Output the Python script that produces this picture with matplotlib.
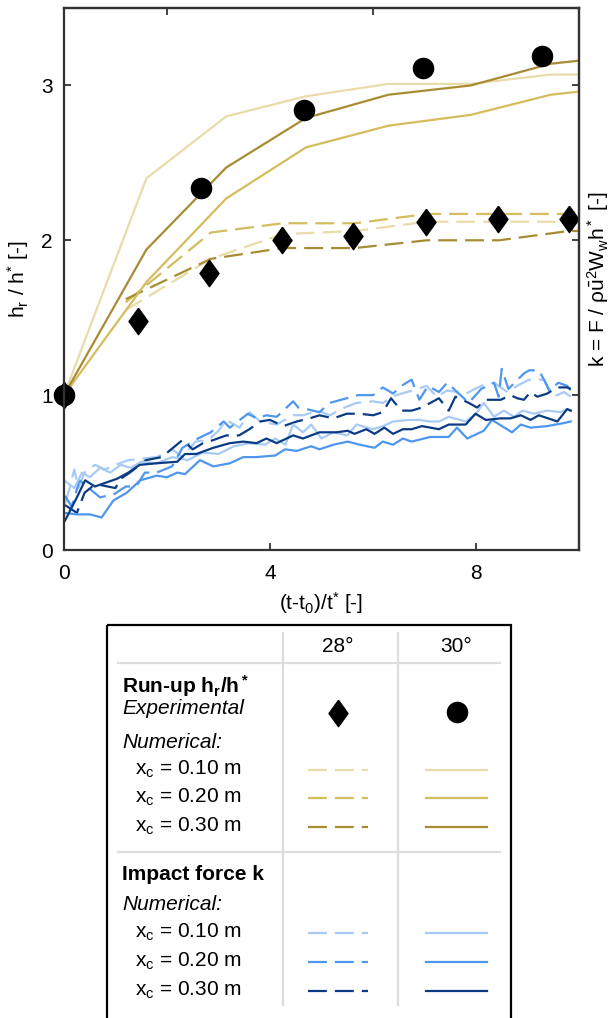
import matplotlib
matplotlib.use("Agg")
import matplotlib.pyplot as plt
from matplotlib.patches import Rectangle
from matplotlib.lines import Line2D

plt.rcParams['font.family'] = ['Liberation Sans', 'DejaVu Sans']
plt.rcParams['mathtext.fontset'] = 'custom'
plt.rcParams['mathtext.rm'] = 'Liberation Sans'
plt.rcParams['mathtext.it'] = 'Liberation Sans:italic'
plt.rcParams['mathtext.bf'] = 'Liberation Sans:bold'

# colours
gold = ["#e9dcab", "#d5bc5f", "#a88c34"]
blue = ["#a8cbf6", "#4e96ee", "#0b3b84"]
dash = (0, (8.5, 3.6))
diamond = [(0, 1), (0.72, 0), (0, -1), (-0.72, 0), (0, 1)]

# run-up, experimental
t_exp28 = [0, 1.44, 2.82, 4.23, 5.61, 7.03, 8.43, 9.8]
h_exp28 = [1.0, 1.48, 1.79, 2.0, 2.03, 2.12, 2.14, 2.14]
t_exp30 = [0, 2.66, 4.66, 6.97, 9.28]
h_exp30 = [1.0, 2.34, 2.84, 3.11, 3.19]

# run-up, numerical 30 deg (solid)
t_num30 = [0, 1.6, 3.15, 4.7, 6.3, 7.9, 9.45, 10]
h30_010 = [1.0, 2.40, 2.80, 2.93, 3.01, 3.01, 3.07, 3.07]
h30_020 = [1.0, 1.73, 2.27, 2.60, 2.74, 2.81, 2.94, 2.96]
h30_030 = [1.0, 1.94, 2.47, 2.79, 2.94, 3.0, 3.14, 3.16]

# run-up, numerical 28 deg (dashed)
t_num28 = [1.2, 2.85, 4.25, 5.65, 7.05, 8.45, 9.8, 10]
h28_010 = [1.55, 1.88, 2.04, 2.06, 2.12, 2.12, 2.12, 2.12]
h28_020 = [1.60, 2.05, 2.11, 2.11, 2.17, 2.17, 2.17, 2.19]
h28_030 = [1.62, 1.88, 1.95, 1.95, 2.0, 2.0, 2.06, 2.06]

# impact force, 30 deg (solid)
tk30_010 = [0, 0.2, 0.35, 0.5, 0.7, 0.9, 1.1, 1.3, 1.5, 1.8, 2.1, 2.4, 2.7, 3.0, 3.3, 3.6, 3.9,
            4.1, 4.3, 4.45, 4.64, 4.8, 5.0, 5.23, 5.5, 5.68, 6.0, 6.2, 6.39, 6.7, 6.9, 7.1, 7.28,
            7.47, 7.8, 8.0, 8.15, 8.35, 8.54, 8.74, 8.9, 9.13, 9.38, 9.64, 9.77, 9.84]
k30_010 = [0.45, 0.40, 0.50, 0.47, 0.53, 0.50, 0.55, 0.53, 0.57, 0.56, 0.60, 0.58, 0.63, 0.62, 0.67,
           0.69, 0.68, 0.72, 0.68, 0.81, 0.76, 0.81, 0.72, 0.76, 0.74, 0.81, 0.78, 0.80, 0.83, 0.84,
           0.84, 0.83, 0.83, 0.86, 0.83, 0.88, 0.95, 0.86, 0.90, 0.86, 0.90, 0.88, 0.90, 0.89, 0.91, 0.90]
tk30_020 = [0, 0.25, 0.5, 0.73, 0.96, 1.22, 1.48, 1.8, 2.0, 2.2, 2.35, 2.64, 2.9, 3.22, 3.48, 3.74,
            4.1, 4.29, 4.52, 4.8, 4.96, 5.23, 5.51, 5.74, 6.03, 6.19, 6.39, 6.58, 6.75, 7.11, 7.47,
            7.63, 7.83, 8.15, 8.31, 8.7, 8.87, 9.06, 9.38, 9.71, 9.84]
k30_020 = [0.24, 0.23, 0.23, 0.21, 0.32, 0.37, 0.45, 0.48, 0.47, 0.50, 0.49, 0.58, 0.54, 0.56, 0.60,
           0.60, 0.61, 0.65, 0.64, 0.67, 0.65, 0.68, 0.70, 0.68, 0.66, 0.70, 0.68, 0.72, 0.70, 0.73,
           0.73, 0.79, 0.72, 0.77, 0.84, 0.76, 0.81, 0.79, 0.80, 0.82, 0.83]
tk30_030 = [0.02, 0.25, 0.41, 0.6, 0.77, 1.03, 1.25, 1.47, 1.8, 2.2, 2.35, 2.57, 2.9, 3.22, 3.48,
            3.74, 3.93, 4.13, 4.45, 4.64, 4.96, 5.29, 5.51, 5.64, 5.87, 6.03, 6.22, 6.39, 6.58, 6.75,
            6.95, 7.28, 7.47, 7.8, 7.99, 8.19, 8.48, 8.67, 8.87, 9.06, 9.22, 9.58, 9.77, 9.84]
k30_030 = [0.19, 0.34, 0.45, 0.41, 0.43, 0.46, 0.50, 0.55, 0.56, 0.57, 0.62, 0.62, 0.66, 0.69, 0.70,
           0.69, 0.72, 0.69, 0.74, 0.72, 0.76, 0.76, 0.77, 0.75, 0.78, 0.75, 0.79, 0.75, 0.78, 0.78,
           0.80, 0.78, 0.81, 0.81, 0.88, 0.84, 0.85, 0.85, 0.87, 0.84, 0.87, 0.83, 0.91, 0.90]

# impact force, 28 deg (dashed)
tk28_010 = [0.02, 0.1, 0.2, 0.28, 0.4, 0.6, 0.8, 1.0, 1.25, 1.5, 1.8, 2.1, 2.3, 2.55, 2.8, 3.0, 3.15,
            3.41, 3.6, 3.81, 4.13, 4.45, 4.64, 4.93, 5.16, 5.45, 5.68, 6.0, 6.19, 6.45, 6.77, 7.04,
            7.24, 7.44, 7.8, 8.1, 8.35, 8.61, 8.8, 9.03, 9.32, 9.51, 9.71, 9.84]
k28_010 = [0.30, 0.39, 0.52, 0.40, 0.50, 0.55, 0.52, 0.55, 0.58, 0.59, 0.60, 0.65, 0.60, 0.70, 0.71,
           0.77, 0.84, 0.79, 0.89, 0.83, 0.81, 0.87, 0.87, 0.90, 0.87, 0.92, 0.95, 0.96, 0.95, 1.0,
           1.03, 1.06, 0.99, 1.03, 1.01, 1.06, 1.08, 1.02, 1.06, 1.10, 1.10, 0.99, 1.02, 0.99]
tk28_020 = [0.02, 0.15, 0.3, 0.48, 0.7, 0.97, 1.2, 1.4, 1.57, 1.8, 2.1, 2.3, 2.6, 2.85, 3.1, 3.22,
            3.57, 3.74, 3.93, 4.13, 4.45, 4.55, 4.71, 4.96, 5.16, 5.49, 5.71, 6.0, 6.19, 6.39, 6.55,
            6.75, 6.9, 7.07, 7.28, 7.44, 7.86, 8.1, 8.35, 8.44, 8.5, 8.63, 8.93, 9.03, 9.22, 9.32,
            9.42, 9.6, 9.77, 9.84]
k28_020 = [0.35, 0.28, 0.45, 0.40, 0.34, 0.36, 0.41, 0.41, 0.50, 0.50, 0.54, 0.66, 0.72, 0.76, 0.83,
           0.79, 0.88, 0.85, 0.87, 0.86, 0.96, 0.92, 0.91, 0.89, 0.95, 0.98, 1.0, 1.0, 1.05, 1.01,
           1.06, 1.10, 0.97, 1.06, 1.02, 1.08, 0.95, 1.04, 1.08, 0.99, 1.17, 1.04, 1.14, 1.16, 1.16,
           1.10, 1.03, 1.08, 1.06, 1.03]
tk28_030 = [0.02, 0.25, 0.4, 0.55, 0.7, 1.0, 1.1, 1.28, 1.59, 1.9, 2.3, 2.5, 2.7, 2.9, 3.15, 3.4,
            3.6, 3.81, 4.0, 4.26, 4.52, 4.77, 4.96, 5.23, 5.49, 5.74, 6.0, 6.19, 6.35, 6.55, 6.75,
            6.95, 7.28, 7.47, 7.6, 7.86, 8.02, 8.2, 8.48, 8.67, 8.8, 8.93, 9.06, 9.19, 9.38, 9.58,
            9.77, 9.84]
k28_030 = [0.29, 0.24, 0.37, 0.41, 0.42, 0.40, 0.46, 0.50, 0.58, 0.60, 0.71, 0.65, 0.69, 0.71, 0.74,
           0.74, 0.78, 0.83, 0.84, 0.80, 0.83, 0.85, 0.87, 0.85, 0.88, 0.88, 0.87, 0.89, 0.98, 0.90,
           0.90, 0.92, 0.98, 0.90, 0.99, 0.95, 0.92, 0.97, 0.97, 1.0, 0.98, 0.97, 1.02, 0.99, 1.01,
           1.05, 1.05, 1.04]

xc_labels = ["0.10", "0.20", "0.30"]

fig = plt.figure(figsize=(6.13, 10.18), dpi=100)

# ---- main plot ----
ax = fig.add_axes([64/613, 1-550/1018, 515/613, 542/1018])
lw = 1.6
for tt, kk, c in zip([tk28_010, tk28_020, tk28_030], [k28_010, k28_020, k28_030], blue):
    ax.plot(tt, kk, color=c, lw=lw, linestyle=dash)
for tt, kk, c in zip([tk30_010, tk30_020, tk30_030], [k30_010, k30_020, k30_030], blue):
    ax.plot(tt, kk, color=c, lw=lw)
for hh, c in zip([h28_010, h28_020, h28_030], gold):
    ax.plot(t_num28, hh, color=c, lw=lw, linestyle=dash)
for hh, c in zip([h30_010, h30_020, h30_030], gold):
    ax.plot(t_num30, hh, color=c, lw=lw)
ax.plot(t_exp28, h_exp28, linestyle='none', marker=diamond, color='black', ms=19, clip_on=False)
ax.plot(t_exp30, h_exp30, 'o', color='black', ms=14.5, clip_on=False)

ax.set_xlim(0, 10)
ax.set_ylim(0, 3.5)
ax.set_xticks([0, 4, 8])
ax.set_yticks([0, 1, 2, 3])
ax.tick_params(direction='in', length=5, width=1.3, labelsize=15, color='#333333')
ax.tick_params(axis='x', pad=10)
ax.tick_params(axis='y', pad=8)
for s in ax.spines.values():
    s.set_linewidth(1.6)
    s.set_color('#333333')
ax.set_xlabel(r'(t-t$_\mathregular{0}$)/t$^\mathregular{*}$ [-]', fontsize=15, labelpad=5)
ax.set_ylabel(r'h$_\mathregular{r}$ / h$^\mathregular{*}$ [-]', fontsize=15, labelpad=7)

top = ax.secondary_xaxis('top')
top.set_xticks([2, 6, 10])
top.set_xticklabels([])
top.tick_params(direction='in', length=5, width=1.3, color='#333333')
top.spines['top'].set_linewidth(1.6)
top.spines['top'].set_color('#333333')

right = ax.secondary_yaxis('right')
right.set_yticks([1, 2, 3])
right.set_yticklabels([])
right.tick_params(direction='in', length=5, width=1.3, color='#333333')
right.spines['right'].set_linewidth(1.6)
right.spines['right'].set_color('#333333')
fig.text(598/613, 1 - 279/1018, r'k = F / $\mathregular{\rho\bar{u}^2W_wh^*}$ [-]',
         fontsize=15, rotation=90, ha='center', va='center')

# ---- legend table (pixel coordinates) ----
lg = fig.add_axes([0, 0, 1, 1], zorder=-1)
lg.set_xlim(0, 613)
lg.set_ylim(1018, 0)
lg.axis('off')
lg.add_patch(Rectangle((107, 625), 404, 420, fill=False, ec='black', lw=1.6))
grey = '#dddddd'
lg.plot([118, 500], [663, 663], color=grey, lw=1.6)
lg.plot([118, 500], [852, 852], color=grey, lw=1.6)
lg.plot([283, 283], [633, 1005], color=grey, lw=1.6)
lg.plot([398, 398], [633, 1005], color=grey, lw=1.6)

fs = 15
lg.text(338, 646, '28°', fontsize=fs, ha='center', va='center')
lg.text(456, 646, '30°', fontsize=fs, ha='center', va='center')
lg.text(122, 686, r'Run-up $\mathbf{h_r/h^*}$', fontsize=fs, fontweight='bold', va='center')
lg.text(122, 709, 'Experimental', fontsize=fs, style='italic', va='center')
lg.text(122, 742, 'Numerical:', fontsize=fs, style='italic', va='center')
lg.text(122, 875, 'Impact force k', fontsize=fs, fontweight='bold', va='center')
lg.text(122, 905, 'Numerical:', fontsize=fs, style='italic', va='center')
lg.plot([338], [713], linestyle='none', marker=diamond, color='black', ms=19)
lg.plot([457], [712], 'o', color='black', ms=14.5)

for rows, cols in [([770, 798, 827], gold), ([933, 962, 991], blue)]:
    for y, c, lab in zip(rows, cols, xc_labels):
        lg.text(135, y - 1, r'x$_\mathregular{c}$ = ' + lab + ' m', fontsize=fs, va='center')
        lg.add_line(Line2D([308, 368], [y, y], color=c, lw=lw, linestyle=dash))
        lg.add_line(Line2D([426, 487], [y, y], color=c, lw=lw))

fig.savefig('out.png', dpi=100)
